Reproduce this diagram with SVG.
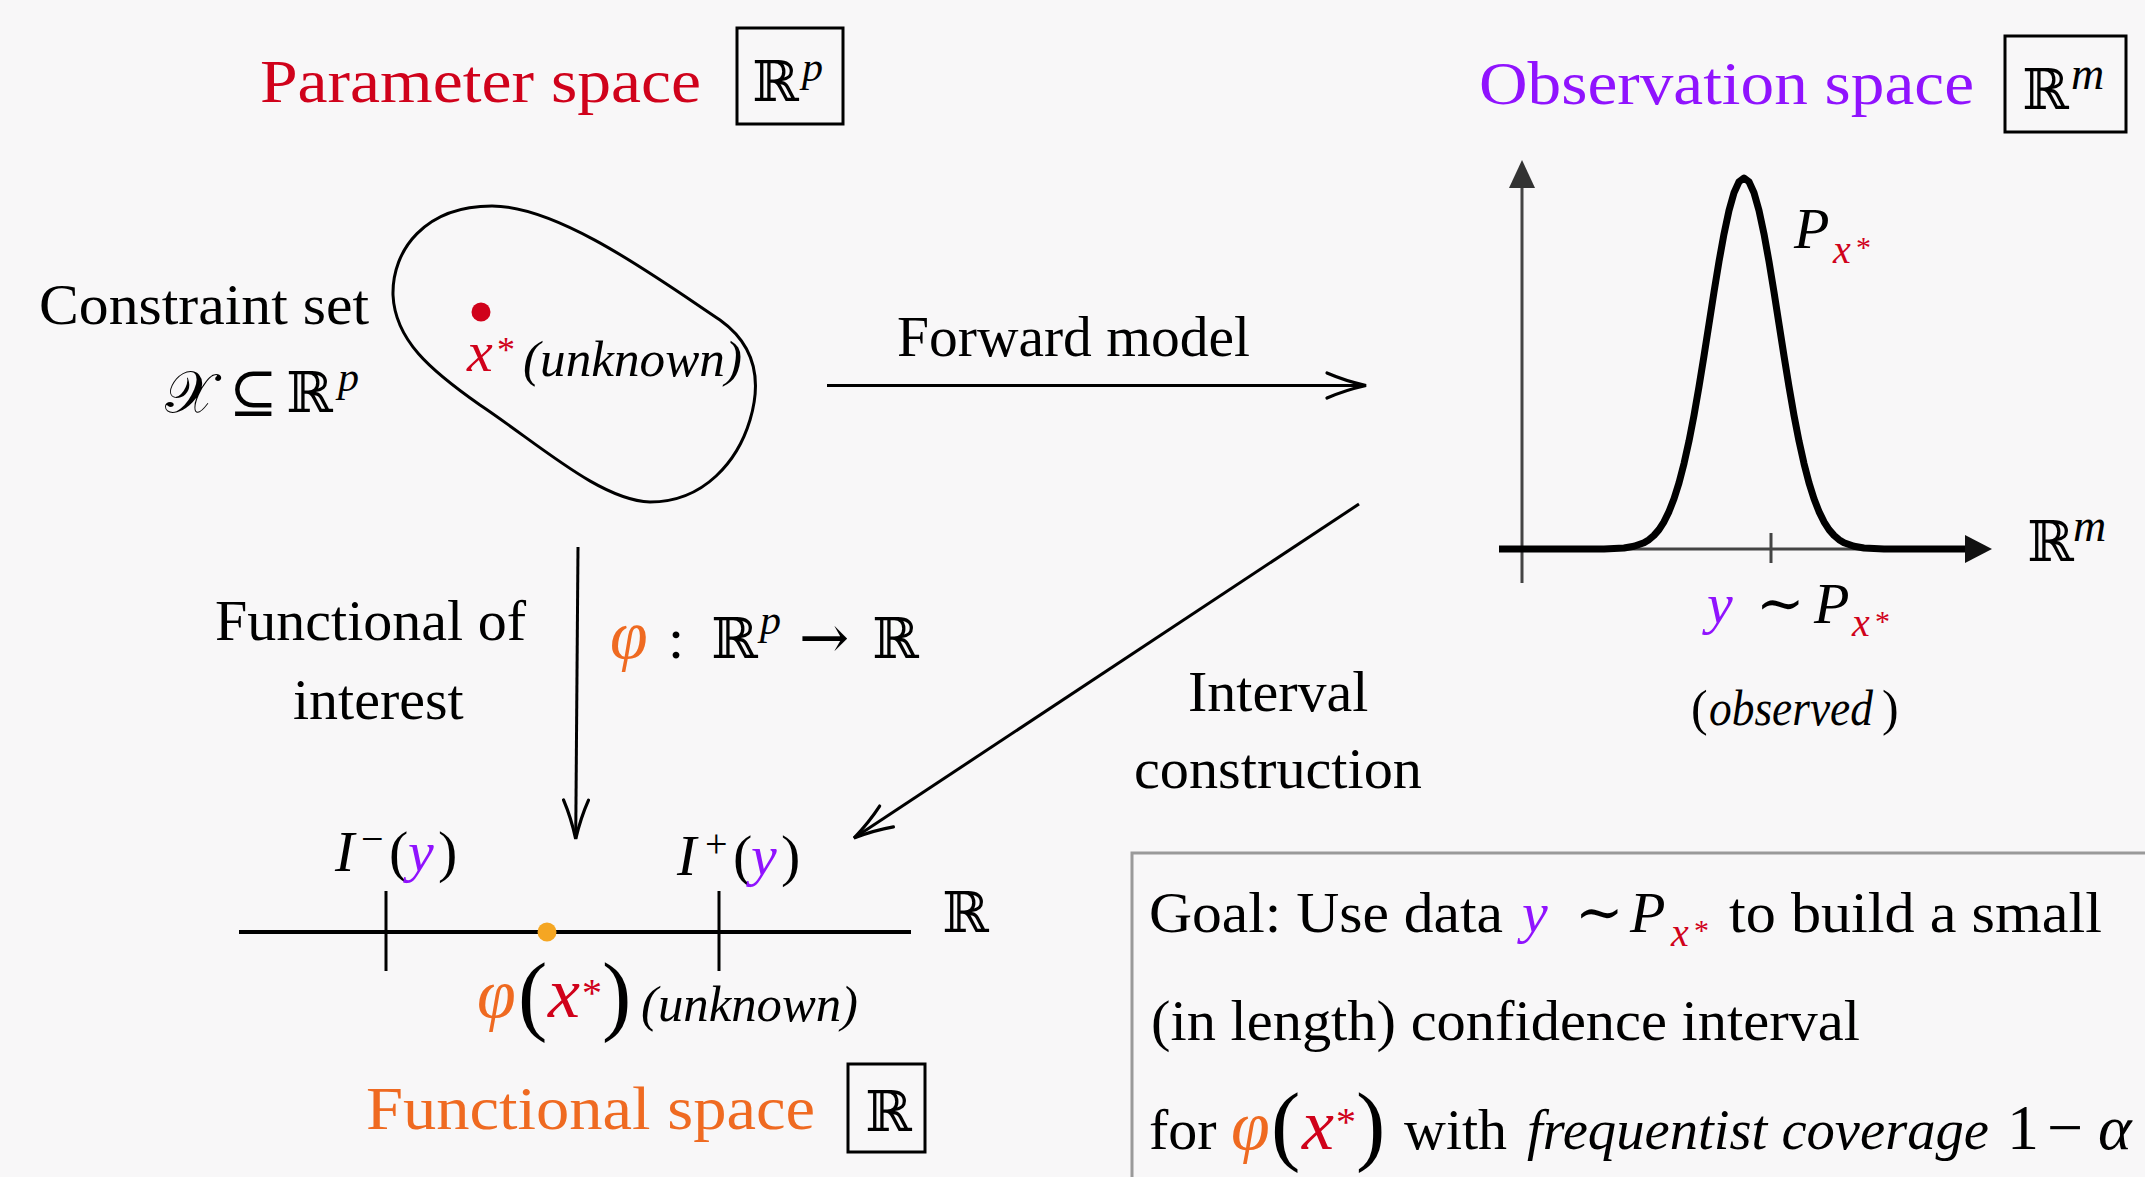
<svg xmlns="http://www.w3.org/2000/svg" width="2145" height="1177" viewBox="0 0 2145 1177">
<defs>
<style>
svg { font-family: "Liberation Serif", "DejaVu Serif", serif; font-size: 58px; }
.it { font-style: italic; }
.ds { font-family: "DejaVu Serif", "Liberation Serif", serif; }
.title { font-size: 61px; }
.red { fill: #D0021B; }
.pur { fill: #9013FE; }
.org { fill: #EF6A21; }
.box { fill: none; stroke: #000; stroke-width: 3; }
.conn { fill: none; stroke: #000; stroke-width: 3; }
.axis { fill: none; stroke: #444; stroke-width: 3; }
</style>
<marker id="to" markerUnits="userSpaceOnUse" viewBox="-45 -20 50 40" markerWidth="50" markerHeight="40" refX="0" refY="0" orient="auto">
<path d="M-39,-12.5 C-24,-6 -9,-2 0,0 C-9,2 -24,6 -39,12.5" fill="none" stroke="#000" stroke-width="3.2" stroke-linecap="round"/>
</marker>
</defs>
<rect x="0" y="0" width="2145" height="1177" fill="#F8F7F8"/>

<g id="parameter-space-title">
<text class="title red" x="260" y="102" textLength="441" lengthAdjust="spacingAndGlyphs">Parameter space</text>
<rect class="box" x="737" y="28" width="106" height="96"/>
<text class="ds" x="752" y="101" font-size="56">ℝ</text>
<text class="it" x="802" y="81" font-size="42">p</text>
</g>

<g id="constraint-set-label">
<text x="39" y="324" textLength="330" lengthAdjust="spacingAndGlyphs">Constraint set</text>
<text x="165" y="412">𝒳</text>
<text x="229" y="412">⊆</text>
<text class="ds" x="286" y="412" font-size="56">ℝ</text>
<text class="it" x="338" y="391" font-size="42">p</text>
</g>

<g id="constraint-set">
<path d="M492,206 C560,206 660,280 720,320 C755,345 762,380 750,420 C738,460 705,502 650,502 C600,500 540,445 480,405 C430,370 395,340 393,295 C392,250 425,206 492,206 Z" fill="none" stroke="#000" stroke-width="3"/>
<circle cx="481" cy="312" r="9.5" fill="#D0021B"/>
<text class="it red" x="467" y="371">x</text>
<text class="red" x="497" y="362" font-size="36">*</text>
<text class="it" x="523" y="376" font-size="51" textLength="219" lengthAdjust="spacingAndGlyphs">(unknown)</text>
</g>

<g id="forward-model-label">
<text x="897" y="356" textLength="353" lengthAdjust="spacingAndGlyphs">Forward model</text>
</g>

<g id="observation-space-title">
<text class="title pur" x="1479" y="103.5" textLength="495" lengthAdjust="spacingAndGlyphs">Observation space</text>
<rect class="box" x="2005" y="36" width="121" height="96"/>
<text class="ds" x="2022" y="109" font-size="56">ℝ</text>
<text class="it" x="2071" y="89" font-size="46">m</text>
</g>

<g id="observation-plot">
<line class="axis" x1="1522" y1="583" x2="1522" y2="186"/>
<polygon points="1522,160 1509,188 1535,188" fill="#333"/>
<line class="axis" x1="1500" y1="549" x2="1968" y2="549"/>
<line class="axis" x1="1771" y1="533" x2="1771" y2="563"/>
<polyline fill="none" stroke="#000" stroke-width="7" stroke-linejoin="round" points="1499,549 1604,549 1614,548.6 1624,548 1634,546.3 1644,542.7 1649,539.7 1654,535.4 1659,529.6 1664,521.8 1669,511.6 1674,498.8 1679,482.9 1684,463.6 1689,441.1 1694,415.3 1699,386.6 1704,355.9 1709,324 1714,292 1719,261.5 1724,233.9 1729,210.5 1734,192.8 1739,181.8 1744,178 1749,181.8 1754,192.8 1759,210.5 1764,233.9 1769,261.5 1774,292 1779,324 1784,355.9 1789,386.6 1794,415.3 1799,441.1 1804,463.6 1809,482.9 1814,498.8 1819,511.6 1824,521.8 1829,529.6 1834,535.4 1839,539.7 1844,542.7 1854,546.3 1864,548 1874,548.6 1884,549 1968,549"/>
<polygon points="1992,549 1965,535 1965,563" fill="#111"/>
<text class="it" x="1794" y="248">P</text>
<text class="it red" x="1833" y="263" font-size="40">x</text>
<text class="red" x="1856" y="257" font-size="30">*</text>
<text class="ds" x="2027" y="561" font-size="56">ℝ</text>
<text class="it" x="2073" y="541" font-size="46">m</text>
<text class="it pur" x="1707" y="623">y</text>
<text x="1756" y="623">∼</text>
<text class="it" x="1814" y="623">P</text>
<text class="it red" x="1852" y="636" font-size="40">x</text>
<text class="red" x="1875" y="631" font-size="30">*</text>
<text x="1691" y="725" font-size="50">(</text>
<text class="it" x="1709" y="725" font-size="50" textLength="164" lengthAdjust="spacingAndGlyphs">observed</text>
<text x="1882" y="725" font-size="50">)</text>
</g>

<g id="functional-label">
<text x="215" y="640" textLength="311" lengthAdjust="spacingAndGlyphs">Functional of</text>
<text x="293" y="719">interest</text>
<text class="it org" x="610" y="658" font-size="68">φ</text>
<text x="668" y="658">:</text>
<text class="ds" x="711" y="658" font-size="56">ℝ</text>
<text class="it" x="760" y="634" font-size="42">p</text>
<text class="ds" x="799" y="658" font-size="60">→</text>
<text class="ds" x="872" y="658" font-size="56">ℝ</text>
</g>

<g id="interval-construction-label">
<text x="1188" y="711">Interval</text>
<text x="1134" y="788" textLength="288" lengthAdjust="spacingAndGlyphs">construction</text>
</g>

<g id="functional-line">
<line x1="239" y1="932" x2="911" y2="932" stroke="#000" stroke-width="4"/>
<line x1="386" y1="891" x2="386" y2="971" stroke="#000" stroke-width="3"/>
<line x1="719" y1="891" x2="719" y2="971" stroke="#000" stroke-width="3"/>
<circle cx="547" cy="932" r="9.5" fill="#F5A623"/>
<text class="ds" x="942" y="932" font-size="56">ℝ</text>
<text class="it" x="335" y="871">I</text>
<text x="361" y="852" font-size="40">−</text>
<text x="389" y="871">(</text>
<text class="it pur" x="408" y="871">y</text>
<text x="438" y="871">)</text>
<text class="it" x="677" y="875">I</text>
<text x="705" y="857" font-size="40">+</text>
<text x="733" y="875">(</text>
<text class="it pur" x="751" y="875">y</text>
<text x="781" y="875">)</text>
<text class="it org" x="477" y="1017" font-size="70">φ</text>
<text x="518" y="1024" font-size="88">(</text>
<text class="it red" x="548" y="1017" font-size="72">x</text>
<text class="red" x="582" y="1006" font-size="40">*</text>
<text x="602" y="1024" font-size="88">)</text>
<text class="it" x="641" y="1021" font-size="51" textLength="217" lengthAdjust="spacingAndGlyphs">(unknown)</text>
</g>

<g id="functional-space-title">
<text class="title org" x="366" y="1129" textLength="449" lengthAdjust="spacingAndGlyphs">Functional space</text>
<rect class="box" x="848" y="1064" width="77" height="88"/>
<text class="ds" x="865" y="1131" font-size="56">ℝ</text>
</g>

<g id="goal-box">
<path d="M1132,1180 V853 H2150" fill="none" stroke="#9A9A9A" stroke-width="3"/>
<text x="1149" y="932" textLength="354" lengthAdjust="spacingAndGlyphs">Goal: Use data</text>
<text class="it pur" x="1522" y="932">y</text>
<text x="1575" y="932">∼</text>
<text class="it" x="1630" y="932">P</text>
<text class="it red" x="1671" y="946" font-size="40">x</text>
<text class="red" x="1694" y="940" font-size="30">*</text>
<text x="1729" y="932" textLength="373" lengthAdjust="spacingAndGlyphs">to build a small</text>
<text x="1151" y="1040" textLength="709" lengthAdjust="spacingAndGlyphs">(in length) confidence interval</text>
<text x="1149" y="1149">for</text>
<text class="it org" x="1231" y="1149" font-size="70">φ</text>
<text x="1271" y="1154" font-size="88">(</text>
<text class="it red" x="1302" y="1149" font-size="72">x</text>
<text class="red" x="1336" y="1135" font-size="40">*</text>
<text x="1356" y="1154" font-size="88">)</text>
<text x="1404" y="1149">with</text>
<text class="it" x="1527" y="1149" textLength="462" lengthAdjust="spacingAndGlyphs">frequentist coverage</text>
<text x="2007" y="1149" font-size="64">1</text>
<text x="2047" y="1149" font-size="64">−</text>
<text class="it" x="2098" y="1149" font-size="64">α</text>
</g>

<g id="connectors">
<line class="conn" x1="827" y1="385.5" x2="1366" y2="385.5" marker-end="url(#to)"/>
<line class="conn" x1="578" y1="547" x2="575.7" y2="839" marker-end="url(#to)"/>
<line class="conn" x1="1359" y1="504" x2="854" y2="838" marker-end="url(#to)"/>
</g>
</svg>
